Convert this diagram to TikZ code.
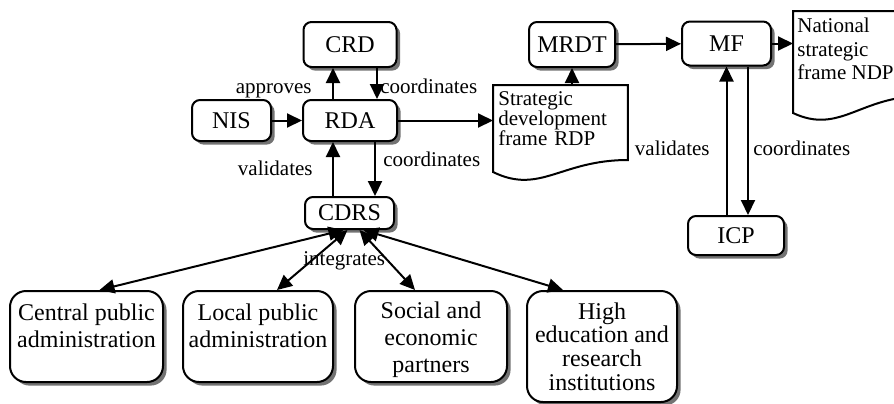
\documentclass[tikz,border=0pt]{standalone}
\usepackage{fontspec}
\setmainfont{Liberation Serif}
\usetikzlibrary{arrows.meta,shadows}
\tikzset{
  unit/.style={draw,line width=1pt,rounded corners=4pt,fill=white,
    drop shadow={shadow xshift=1.8pt,shadow yshift=-1.8pt,fill=black!55,opacity=1},
    inner sep=0pt,font=\fontsize{12}{13.5}\selectfont},
  party/.style={unit,rounded corners=8pt},
  paper/.style={inner sep=0pt,align=left,font=\fontsize{10.5}{10}\selectfont},
  paperline/.style={line width=1pt},
  lbl/.style={inner sep=0pt,font=\fontsize{10.5}{12}\selectfont},
  flow/.style={line width=1pt,-{Triangle[length=7.5pt,width=7pt]}},
  mutual/.style={line width=1pt,{Triangle[length=7.5pt,width=7pt]}-{Triangle[length=7.5pt,width=7pt]}},
}
\newcommand{\boxtext}[2]{\parbox[c][#1][t]{74pt}{\centering #2}}
\begin{document}
\begin{tikzpicture}[x=0.5pt,y=-0.5pt]
    \clip (0,0) rectangle (894,403);
    \node[unit,minimum width=46.5pt,minimum height=22.5pt] (crd) at (350,44.5) {CRD};
    \node[unit,minimum width=39.5pt,minimum height=20.5pt] (nis) at (231.5,120.5) {NIS};
    \node[unit,minimum width=47pt,minimum height=20.5pt] (rda) at (350,120.5) {RDA};
    \node[unit,minimum width=44.5pt,minimum height=16pt] (cdrs) at (349.5,213) {CDRS};
    \node[unit,minimum width=43pt,minimum height=22.5pt] (mrdt) at (572,44.5) {MRDT};
    \node[unit,minimum width=44.5pt,minimum height=22pt] (mf) at (726.5,43.5) {MF};
    \node[unit,minimum width=48pt,minimum height=19.5pt] (icp) at (736,235.5) {ICP};
    \node[paper,text width=62pt,inner xsep=2.5pt,inner ysep=3pt,anchor=north west] (srdp) at (493,85) {Strategic\\development\\frame RDP};
    \node[paper,font=\fontsize{10.5}{11.7}\selectfont,inner xsep=2pt,inner ysep=3.5pt,anchor=north west] (ndp) at (793,11) {National\\strategic\\frame NDP};
    \draw[paperline] (srdp.north west) -- (srdp.north east) -- ++(0,75) .. controls +(-67,0) and +(47,23) .. ([yshift=-43.5pt]srdp.north west) -- cycle;
    \draw[paperline] (ndp.north west) -- ++(130,0) -- ++(0,85) .. controls +(-63,0) and +(47,22) .. ([yshift=-51pt]ndp.north west) -- cycle;
    \node[party,minimum width=76.5pt,minimum height=45.5pt] (cpa) at (86.5,336.5) {\boxtext{32.9pt}{Central public\\administration}};
    \node[party,minimum width=75pt,minimum height=45.5pt] (lpa) at (258,336.5) {\boxtext{32.9pt}{Local public\\administration}};
    \node[party,minimum width=76pt,minimum height=45.5pt] (socp) at (431,336.5) {\boxtext{34.9pt}{Social and\\economic\\partners}};
    \node[party,minimum width=75pt,minimum height=55.5pt,font=\fontsize{12}{11.8}\selectfont] (heri) at (602,346.5) {\boxtext{43.9pt}{High\\education and\\research\\institutions}};
    \draw[flow] (nis) -- (rda);
    \draw[flow] ([xshift=-8.5pt]rda.north) -- ([xshift=-8.5pt]crd.south);
    \draw[flow] ([xshift=13.5pt]crd.south) -- ([xshift=13.5pt]rda.north);
    \draw[flow] (rda.east) -- (rda.east -| srdp.west);
    \draw[flow] (srdp.north -| mrdt) -- (mrdt.south);
    \draw[flow] (mrdt) -- (mf);
    \draw[flow] (mf.east) -- (mf.east -| ndp.west);
    \draw[flow] (icp.north -| mf) -- (mf.south);
    \draw[flow] ([xshift=10.75pt]mf.south) -- ([xshift=10.75pt]mf.south |- icp.north);
    \draw[flow] ([xshift=-8.25pt]cdrs.north) -- ([xshift=-8.25pt]cdrs.north |- rda.south);
    \draw[flow] ([xshift=12.5pt]rda.south) -- ([xshift=12.5pt]rda.south |- cdrs.north);
    \draw[mutual] ([xshift=-3pt]cdrs.south) -- ([xshift=6.5pt]cpa.north);
    \draw[mutual] ([xshift=-1pt]cdrs.south) -- ([xshift=9.5pt]lpa.north);
    \draw[mutual] ([xshift=5pt]cdrs.south) -- ([xshift=-8pt]socp.north);
    \draw[mutual] ([xshift=7pt]cdrs.south) -- ([xshift=-19.5pt]heri.north);
    \node[lbl,anchor=base east] (appr) at (312,93) {approves};
    \node[lbl,anchor=base west] (coord1) at (380,93) {coordinates};
    \node[lbl,anchor=base east] (valid1) at (313,175) {validates};
    \node[lbl,anchor=base west] (coord2) at (383,166) {coordinates};
    \node[lbl,anchor=base east] (valid2) at (710,155) {validates};
    \node[lbl,anchor=base west] (coord3) at (753,155) {coordinates};
    \node[lbl,anchor=base west] (integ) at (303,265) {integrates};
\end{tikzpicture}
\end{document}
